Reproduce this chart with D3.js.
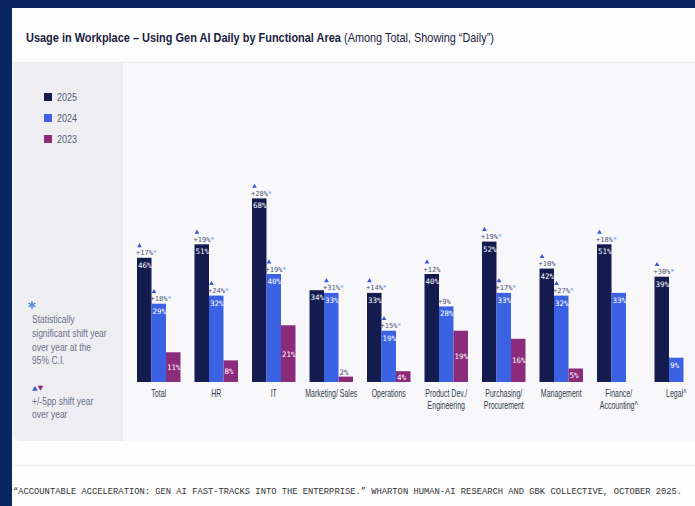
<!DOCTYPE html>
<html><head><meta charset="utf-8">
<script src="https://cdn.jsdelivr.net/npm/d3@7"></script>
<style>html,body{margin:0;padding:0;background:#fff;} svg{display:block}</style>
</head><body><svg id="c" width="695" height="506"></svg>
<script>
// ---------- DATA ----------
const categories = [["Total"],["HR"],["IT"],["Marketing/ Sales"],["Operations"],["Product Dev./","Engineering"],["Purchasing/","Procurement"],["Management"],["Finance/","Accounting^"],["Legal^"]];
const years = ["2025","2024","2023"];
const values2025 = [46,51,68,34,33,40,52,42,51,39];
const values2024 = [29,32,40,33,19,28,33,32,33,9];
const values2023 = [11,8,21,2,4,19,16,5,null,null];
const change2025 = ["+17%","+19%","+28%",null,"+14%","+12%","+19%","+10%","+18%","+30%"];
const signif2025 = [true,true,true,false,true,false,true,false,true,true];
const arrow2025 = [true,true,true,false,true,true,true,true,true,true];
const change2024 = ["+18%","+24%","+19%","+31%","+15%","+9%","+17%","+27%",null,null];
const signif2024 = [true,true,true,true,true,false,true,true,false,false];
const arrow2024 = [true,true,true,true,true,false,true,true,false,false];
const titleBold = "Usage in Workplace \u2013 Using Gen AI Daily by Functional Area";
const titleNormal = "(Among Total, Showing \u201cDaily\u201d)";
const noteSig = ["Statistically","significant shift year","over year at the","95% C.I."];
const noteShift = ["+/-5pp shift year","over year"];
const caption = "\u201cACCOUNTABLE ACCELERATION: GEN AI FAST-TRACKS INTO THE ENTERPRISE.\u201d WHARTON HUMAN-AI RESEARCH AND GBK COLLECTIVE, OCTOBER 2025.";

// ---------- STYLE ----------
const colors = {"2025":"#131b4f","2024":"#3c62e4","2023":"#8a2b7b"};
const navy = "#0b2462";
const sans = "'Liberation Sans', Arial, sans-serif";
const mono = "'DejaVu Sans Mono', monospace";

const svg = d3.select("#c");

// place text at (x,y) and compress horizontally by factor f (or to a target width)
function placeSqueezed(parent, x, y, str, attrs, f, target){
  const t = parent.append("text").attr("x",0).attr("y",0).text(str);
  Object.entries(attrs).forEach(([k,v])=>t.attr(k,v));
  const w = t.node().getComputedTextLength();
  const s = target ? target/w : f;
  t.attr("transform",`translate(${x},${y}) scale(${s},1)`);
  return t;
}

// backgrounds
svg.append("rect").attr("x",0).attr("y",0).attr("width",695).attr("height",506).attr("fill",navy);
svg.append("rect").attr("x",12).attr("y",8).attr("width",683).attr("height",498).attr("fill","#fdfdfd");
svg.append("rect").attr("x",12).attr("y",62).attr("width",683).attr("height",1).attr("fill","#ececf0");
svg.append("rect").attr("x",12).attr("y",63).attr("width",683).attr("height",378).attr("fill","#f8f8fa");
svg.append("path").attr("fill","#eeeef2")
  .attr("d","M12,63 H123 V441 H22 Q14,441 14,433 V63 Z");
svg.append("rect").attr("x",12).attr("y",465).attr("width",683).attr("height",1).attr("fill","#f0f0f3");

// title
placeSqueezed(svg, 26, 42, titleBold, {"font-family":sans,"font-size":12.5,"font-weight":"bold","fill":"#1b2140"}, null, 315);
placeSqueezed(svg, 344, 42, titleNormal, {"font-family":sans,"font-size":12.5,"fill":"#1b2140"}, null, 150);

// legend
const legY = d3.scalePoint().domain(years).range([97,139]);
const leg = svg.append("g");
leg.selectAll("rect").data(years).join("rect")
  .attr("x",44).attr("y",d=>legY(d)-4).attr("width",8).attr("height",8).attr("fill",d=>colors[d]);
years.forEach(d=>placeSqueezed(leg, 57, legY(d)+4, d, {"font-family":sans,"font-size":11.5,"fill":"#585d74"}, 0.78));

// notes
svg.append("path").attr("d",d3.symbol(d3.symbolAsterisk,40)())
  .attr("transform","translate(32,305)").attr("fill","none").attr("stroke","#4a8fe6").attr("stroke-width",1.6);
noteSig.forEach((d,i)=>placeSqueezed(svg, 32, 323+i*13.8, d, {"font-family":sans,"font-size":11.5,"fill":"#6b7088"}, 0.74));
svg.append("path").attr("d",d3.symbol(d3.symbolTriangle,14)()).attr("transform","translate(35,389)").attr("fill","#3d5ad6");
svg.append("path").attr("d",d3.symbol(d3.symbolTriangle,14)()).attr("transform","translate(40.5,387.5) rotate(180)").attr("fill","#8a2b7b");
noteShift.forEach((d,i)=>placeSqueezed(svg, 32, 405+i*12.5, d, {"font-family":sans,"font-size":11.5,"fill":"#6b7088"}, 0.74));

// scales
const x0 = d3.scaleBand().domain(d3.range(categories.length)).range([137,698]).paddingInner(0.2435).paddingOuter(0);
const x1 = d3.scaleBand().domain(years).range([0,x0.bandwidth()]).padding(0);
const y = d3.scaleLinear().domain([0,100]).range([382,112]);

const series = {"2025":values2025,"2024":values2024,"2023":values2023};
const bars = [];
categories.forEach((c,i)=>{
  years.forEach(yr=>{
    const v = series[yr][i];
    if(v!==null && v!==undefined) bars.push({i,yr,v});
  });
});

const g = svg.append("g");
g.selectAll("rect.bar").data(bars).join("rect").attr("class","bar")
  .attr("x",d=>x0(d.i)+x1(d.yr)).attr("y",d=>y(d.v))
  .attr("width",x1.bandwidth()).attr("height",d=>y(0)-y(d.v))
  .attr("fill",d=>colors[d.yr]);

// value labels
g.selectAll("text.val").data(bars).join("text").attr("class","val")
  .attr("x",d=>x0(d.i)+x1(d.yr)+1)
  .attr("y",d=>{
    if(d.yr==="2023"){ return d.v<3 ? y(d.v)-2 : (y(d.v)+y(0))/2+3; }
    return y(d.v)+10;
  })
  .attr("font-family",mono).attr("font-size",7.5)
  .attr("fill",d=>(d.yr==="2023"&&d.v<3)?"#4a4f66":"#ffffff")
  .text(d=>d.v+"%");

// change labels
const changes = [];
categories.forEach((c,i)=>{
  if(change2025[i]) changes.push({i,yr:"2025",v:values2025[i],t:change2025[i],s:signif2025[i],a:arrow2025[i]});
  if(change2024[i]) changes.push({i,yr:"2024",v:values2024[i],t:change2024[i],s:signif2024[i],a:arrow2024[i]});
});
const ct = g.selectAll("text.chg").data(changes).join("text").attr("class","chg")
  .attr("x",d=>x0(d.i)+x1(d.yr)-1).attr("y",d=>y(d.v)-2.5)
  .attr("font-family",mono).attr("font-size",7).attr("fill","#4d5270");
ct.append("tspan").text(d=>d.t);
ct.filter(d=>d.s).append("tspan").attr("fill","#6d9bf0").text("*");
g.selectAll("path.tri").data(changes.filter(d=>d.a)).join("path").attr("class","tri")
  .attr("d",d3.symbol(d3.symbolTriangle,10)())
  .attr("transform",d=>`translate(${x0(d.i)+x1(d.yr)+2.5},${y(d.v)-12})`)
  .attr("fill","#3d5ad6");

// category labels
const cg = svg.append("g");
categories.forEach((lines,i)=>{
  lines.forEach((line,k)=>{
    placeSqueezed(cg, x0(i)+x0.bandwidth()/2, 397+k*12, line,
      {"font-family":sans,"font-size":10,"fill":"#333a4a","text-anchor":"middle"}, 0.7);
  });
});

// caption
placeSqueezed(svg, 13, 494, caption, {"font-family":"'Liberation Mono', 'Courier New', monospace","font-size":9.5,"fill":"#333"}, null, 670);
</script></body></html>
